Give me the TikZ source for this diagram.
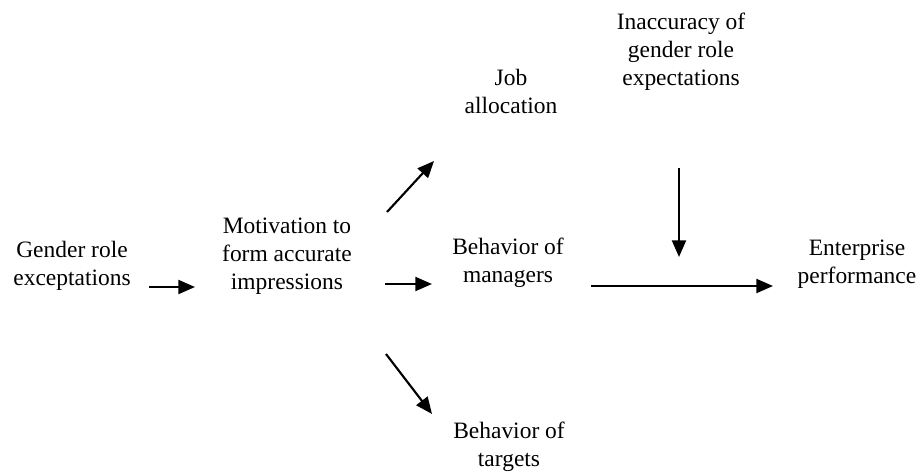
\documentclass[tikz,border=0pt]{standalone}
\usepackage{fontspec}
\setmainfont{Liberation Serif}
\usetikzlibrary{calc,arrows.meta}

\tikzset{
  lbl/.style={inner sep=0.75pt, align=center, font=\fontsize{17.6}{21}\selectfont},
  arr/.style={line width=1.6pt, -{Triangle[length=12.5pt,width=10.5pt]}}
}

\begin{document}
\begin{tikzpicture}[x=0.75pt,y=0.75pt,yscale=-1,xscale=1]
%set diagram size 921 x 472
\useasboundingbox (0,0) rectangle (921,472);

% Text Nodes
\node[lbl] (gre) at (72,266) {Gender role\\exceptations};
\node[lbl] (mot) at (287,256) {Motivation to\\form accurate\\impressions};
\node[lbl] (job) at (511,91) {Job\\allocation};
\node[lbl] (man) at (508,263) {Behavior of\\managers};
\node[lbl] (tar) at (509,447) {Behavior of\\targets};
\node[lbl] (ina) at (681,52) {Inaccuracy of\\gender role\\expectations};
\node[lbl] (ent) at (857,264) {Enterprise\\performance};

% moderating arrow ends above the main path
\coordinate (mod) at (679,257);

% Arrows
\draw[arr] ($(gre)+(77,21)$) -- ($(mot)+(-92,31)$);
\draw[arr] ($(mot)+(98,28)$) -- ($(man)+(-76,21)$);
\draw[arr] ($(mot)+(100,-44)$) -- ($(job)+(-77,70)$);
\draw[arr] ($(mot)+(99,98)$) -- ($(tar)+(-77,-33)$);
\draw[arr] ($(man)+(83,23)$) -- ($(ent)+(-84,22)$);
\draw[arr] ($(ina)+(-2,116)$) -- (mod);

\end{tikzpicture}
\end{document}
